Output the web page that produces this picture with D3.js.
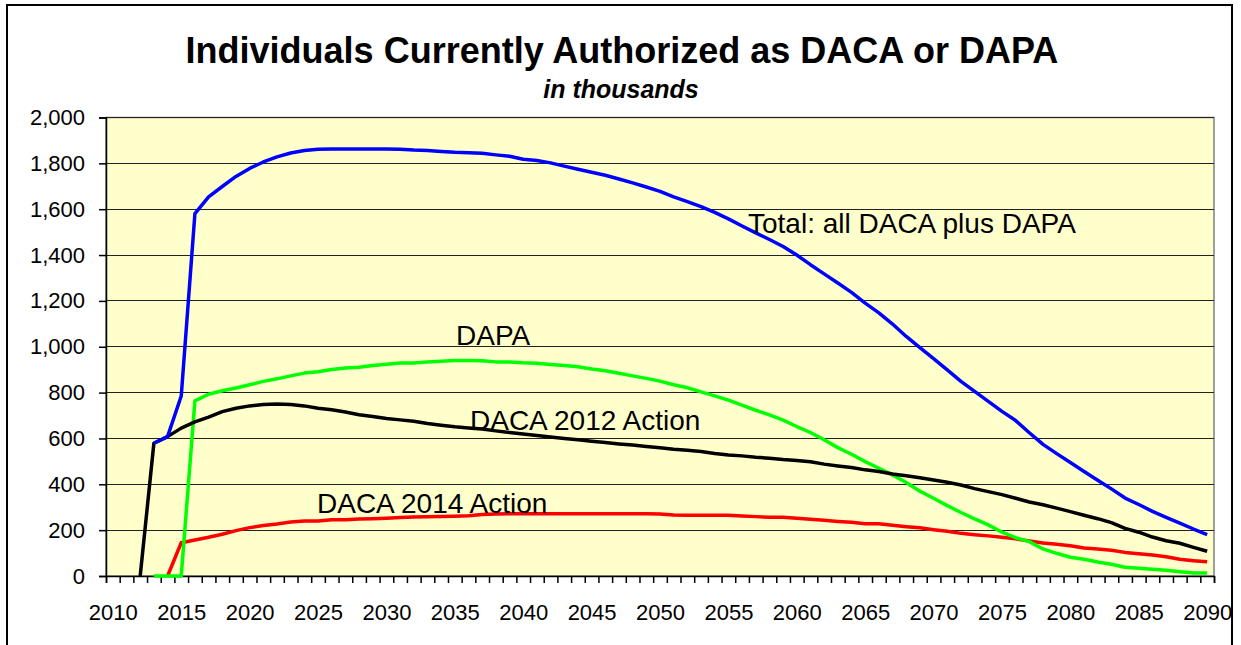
<!DOCTYPE html>
<html>
<head>
<meta charset="utf-8">
<script src="https://cdn.jsdelivr.net/npm/d3@7"></script>
<style>
  body { margin: 0; background: #fff; }
  svg { display: block; font-family: "Liberation Sans", Arial, sans-serif; }
</style>
</head>
<body>
<svg width="1241" height="645"></svg>
<script>
// categories: one per year
const years = d3.range(2010, 2091);
const yTicks = [0, 200, 400, 600, 800, 1000, 1200, 1400, 1600, 1800, 2000];
const xLabelYears = [2010, 2015, 2020, 2025, 2030, 2035, 2040, 2045, 2050, 2055, 2060, 2065, 2070, 2075, 2080, 2085, 2090];

// values, in thousands (2010..2090)
const daca2012 = [null, null, 0, 579, 608, 645, 672, 693, 717, 732,
  742, 748, 750, 748, 742, 732, 725, 715, 703, 696,
  687, 681, 675, 665, 658, 651, 646, 641, 633, 626,
  619, 613, 606, 600, 594, 588, 582, 576, 571, 565,
  559, 553, 549, 543, 534, 528, 524, 518, 514, 508,
  504, 498, 488, 480, 473, 463, 456, 445, 437, 429,
  419, 409, 397, 381, 368, 355, 339, 323, 311, 296,
  281, 265, 250, 233, 208, 191, 170, 154, 143, 125,
  108];

const daca2014 = [null, null, null, null, 0, 145, 157, 169, 182, 198,
  211, 220, 227, 236, 240, 240, 245, 245, 249, 250,
  252, 255, 257, 258, 259, 261, 263, 268, 270, 271,
  271, 271, 272, 272, 272, 271, 271, 271, 271, 271,
  270, 266, 265, 265, 265, 265, 262, 259, 256, 256,
  252, 248, 243, 238, 234, 228, 228, 221, 215, 210,
  202, 195, 186, 180, 175, 169, 162, 153, 144, 138,
  132, 122, 118, 112, 103, 97, 92, 84, 73, 67,
  62];

const dapa = [null, null, null, 0, 0, 0, 764, 793, 808, 820,
  834, 849, 860, 873, 885, 891, 901, 907, 911, 918,
  924, 929, 929, 934, 937, 940, 940, 939, 934, 934,
  930, 928, 923, 918, 913, 903, 895, 884, 873, 862,
  850, 834, 821, 803, 786, 767, 745, 723, 703, 680,
  652, 626, 594, 560, 531, 499, 470, 441, 408, 370,
  339, 307, 277, 249, 223, 191, 167, 150, 118, 99,
  82, 73, 61, 51, 38, 34, 29, 25, 19, 13,
  13];

const total = [null, null, null, 579, 608, 785, 1581, 1654, 1699, 1743,
  1778, 1806, 1828, 1845, 1856, 1862, 1863, 1863, 1863, 1863,
  1863, 1862, 1858, 1856, 1852, 1848, 1846, 1844, 1837, 1831,
  1818, 1812, 1802, 1788, 1774, 1761, 1748, 1732, 1715, 1697,
  1678, 1654, 1633, 1611, 1586, 1558, 1527, 1497, 1468, 1437,
  1400, 1358, 1318, 1278, 1237, 1190, 1148, 1099, 1045, 996,
  948, 899, 849, 805, 762, 718, 678, 625, 574, 534,
  495, 456, 418, 380, 340, 312, 282, 256, 231, 205,
  181];

const series = [
  { name: "DACA 2014 Action", values: daca2014, color: "#ff0000", lx: 317, ly: 513 },
  { name: "DAPA", values: dapa, color: "#00ff00", lx: 456, ly: 345 },
  { name: "DACA 2012 Action", values: daca2012, color: "#000000", lx: 470, ly: 430 },
  { name: "Total: all DACA plus DAPA", values: total, color: "#0000ff", lx: 748, ly: 233 }
];

const svg = d3.select("svg");
const plotLeft = 106, plotRight = 1214, plotTop = 117.5, plotBottom = 576;

// category axis: each year sits in the middle of its slot
const x = d3.scaleLinear().domain([2009.5, 2090.5]).range([plotLeft, plotRight]);
const y = d3.scaleLinear().domain([0, 2000]).range([plotBottom, plotTop]);

// outer chart border
svg.append("rect")
  .attr("x", 7).attr("y", 5)
  .attr("width", 1225).attr("height", 700)
  .attr("fill", "#fff").attr("stroke", "#000").attr("stroke-width", 2);

// plot area
svg.append("rect")
  .attr("x", plotLeft).attr("y", plotTop)
  .attr("width", plotRight - plotLeft).attr("height", plotBottom - plotTop)
  .attr("fill", "#ffffcc").attr("stroke", "#808080").attr("stroke-width", 1.5);

// gridlines
svg.append("g")
  .selectAll("line")
  .data(yTicks.filter(d => d > 0))
  .enter().append("line")
  .attr("x1", plotLeft).attr("x2", plotRight)
  .attr("y1", d => y(d)).attr("y2", d => y(d))
  .attr("stroke", "#222").attr("stroke-width", 1)
  .attr("shape-rendering", "crispEdges");

// y axis
const yAxis = svg.append("g")
  .attr("transform", `translate(${plotLeft},0)`)
  .call(d3.axisLeft(y).tickValues(yTicks).tickSize(7).tickPadding(14).tickFormat(d3.format(",")));
yAxis.selectAll("text").attr("font-size", 22).attr("fill", "#000")
  .style("font-family", "'Liberation Sans', Arial, sans-serif");
yAxis.selectAll("line,path").attr("stroke", "#000").attr("stroke-width", 1.5);

// x axis tick marks between categories
const xTickAxis = svg.append("g")
  .attr("transform", `translate(0,${plotBottom})`)
  .call(d3.axisBottom(x).tickValues(d3.range(2009.5, 2091, 1)).tickSize(7).tickFormat(""));
xTickAxis.selectAll("line,path").attr("stroke", "#000").attr("stroke-width", 1.5);

// x labels every five years
const xLabelAxis = svg.append("g")
  .attr("transform", `translate(0,${plotBottom})`)
  .call(d3.axisBottom(x).tickValues(xLabelYears).tickSize(0).tickPadding(28).tickFormat(d3.format("d")));
xLabelAxis.select(".domain").remove();
xLabelAxis.selectAll("text").attr("font-size", 22).attr("fill", "#000")
  .style("font-family", "'Liberation Sans', Arial, sans-serif");

// lines
const line = d3.line()
  .defined(d => d.v != null)
  .x(d => x(d.year))
  .y(d => y(d.v));

svg.append("g")
  .selectAll("path")
  .data(series)
  .enter().append("path")
  .attr("d", s => line(years.map((yr, i) => ({ year: yr, v: s.values[i] }))))
  .attr("fill", "none")
  .attr("stroke", s => s.color)
  .attr("stroke-width", 3.5)
  .attr("stroke-linejoin", "round");

// series labels
svg.append("g")
  .selectAll("text")
  .data(series)
  .enter().append("text")
  .attr("x", s => s.lx).attr("y", s => s.ly)
  .attr("font-size", 28)
  .attr("fill", "#000")
  .text(s => s.name);

// titles
svg.append("text")
  .attr("x", 622).attr("y", 63)
  .attr("text-anchor", "middle")
  .attr("font-size", 36).attr("font-weight", "bold")
  .text("Individuals Currently Authorized as DACA or DAPA");

svg.append("text")
  .attr("x", 621).attr("y", 98)
  .attr("text-anchor", "middle")
  .attr("font-size", 25).attr("font-weight", "bold").attr("font-style", "italic")
  .text("in thousands");
</script>
</body>
</html>
